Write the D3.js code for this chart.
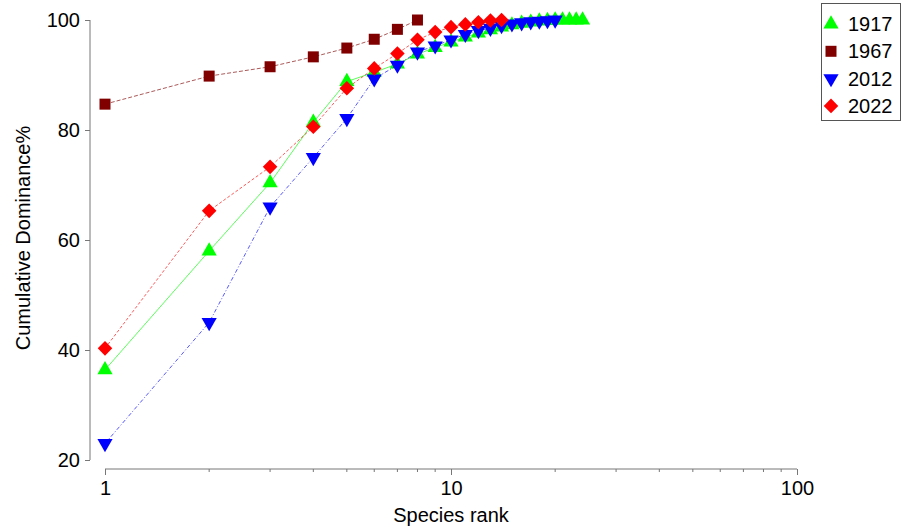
<!DOCTYPE html>
<html><head><meta charset="utf-8">
<script src="https://cdn.jsdelivr.net/npm/d3@7"></script>
<style>
body{margin:0;background:#fff;}
svg{display:block;font-family:"Liberation Sans",Arial,sans-serif;}
</style></head>
<body><svg id="c" width="903" height="529"></svg>
<script>
const rank1917 = d3.range(1, 25);
const v1917 = [36.4, 58.0, 70.4, 81.4, 88.8, 90.5, 92.0, 93.8, 95.0, 96.0, 96.9, 97.6, 98.2, 98.7, 99.1, 99.4, 99.6, 99.8, 99.9, 100, 100, 100, 100, 100];
const rank1967 = d3.range(1, 9);
const v1967 = [84.7, 89.8, 91.5, 93.3, 94.9, 96.5, 98.3, 100];
const rank2012 = d3.range(1, 21);
const v2012 = [23.0, 45.0, 66.0, 75.0, 82.1, 89.3, 91.8, 94.2, 95.3, 96.4, 97.4, 98.1, 98.5, 99.0, 99.3, 99.5, 99.7, 99.8, 99.9, 100];
const rank2022 = d3.range(1, 15);
const v2022 = [40.3, 65.3, 73.3, 80.6, 87.6, 91.2, 93.9, 96.4, 97.8, 98.7, 99.2, 99.6, 99.9, 100];
const yTicks = [20, 40, 60, 80, 100];
const xTicks = [1, 10, 100];
const xLabel = "Species rank";
const yLabel = "Cumulative Dominance%";

const series = [
  {name: "1917", x: rank1917, y: v1917, color: "#00ff00", line: "#00ff00", dash: null, sym: "up"},
  {name: "1967", x: rank1967, y: v1967, color: "#800000", line: "#800000", dash: "4,2", sym: "square"},
  {name: "2012", x: rank2012, y: v2012, color: "#0000ff", line: "#0000ff", dash: "4,2,1,2", sym: "down"},
  {name: "2022", x: rank2022, y: v2022, color: "#ff0000", line: "#ff0000", dash: "3,2", sym: "diamond"}
];

const svg = d3.select("#c");
const x = d3.scaleLog().domain([1, 100]).range([105, 797]);
const y = d3.scaleLinear().domain([20, 100]).range([460, 20]);
const axisColor = "#777";

// Y axis
const gy = svg.append("g").attr("transform", "translate(90,0)")
  .call(d3.axisLeft(y).tickValues(yTicks).tickSize(5).tickPadding(5).tickFormat(d3.format("d")));
gy.select(".domain").attr("stroke", axisColor).attr("d", "M0,20V460");
gy.selectAll(".tick line").attr("stroke", axisColor);
gy.selectAll(".tick text").attr("font-size", 20).attr("fill", "#000").attr("font-family", "Liberation Sans, Arial, sans-serif");

// X axis
const gx = svg.append("g").attr("transform", "translate(0,469)")
  .call(d3.axisBottom(x).tickValues(xTicks).tickSize(6).tickPadding(6).tickFormat(d3.format("d")));
gx.select(".domain").attr("stroke", axisColor).attr("d", "M105,0H797");
gx.selectAll(".tick line").attr("stroke", axisColor);
gx.selectAll(".tick text").attr("font-size", 20).attr("fill", "#000").attr("font-family", "Liberation Sans, Arial, sans-serif");
const minor = [];
[1, 10].forEach(b => { for (let k = 2; k <= 9; k++) minor.push(b * k); });
gx.selectAll(".minor").data(minor).enter().append("line")
  .attr("x1", d => x(d)).attr("x2", d => x(d)).attr("y1", 0).attr("y2", 3)
  .attr("stroke", axisColor);

// Labels
svg.append("text").attr("x", 451).attr("y", 522).attr("text-anchor", "middle")
  .attr("font-size", 20).text(xLabel);
svg.append("text").attr("transform", "translate(30,238) rotate(-90)").attr("text-anchor", "middle")
  .attr("font-size", 20).text(yLabel);

function symPath(kind) {
  if (kind === "up") return d3.symbol(d3.symbolTriangle, 100)();
  if (kind === "down") return d3.symbol(d3.symbolTriangle, 100)();
  if (kind === "square") return d3.symbol(d3.symbolSquare, 121)();
  return d3.symbol(d3.symbolSquare, 106)();
}
function symRot(kind) {
  if (kind === "down") return " rotate(180)";
  if (kind === "diamond") return " rotate(45)";
  return "";
}

const line = d3.line().x(d => x(d[0])).y(d => y(d[1]));
series.forEach(s => {
  const pts = s.x.map((r, i) => [r, s.y[i]]);
  const g = svg.append("g");
  g.append("path").attr("d", line(pts)).attr("fill", "none")
    .attr("stroke", s.line).attr("stroke-width", 1).attr("stroke-opacity", 0.65)
    .attr("stroke-dasharray", s.dash);
  g.selectAll("path.m").data(pts).enter().append("path").attr("class", "m")
    .attr("d", symPath(s.sym))
    .attr("transform", d => `translate(${x(d[0])},${y(d[1])})` + symRot(s.sym))
    .attr("fill", s.color);
});

// Legend
const lg = svg.append("g");
lg.append("rect").attr("x", 821.5).attr("y", 3.5).attr("width", 79).attr("height", 117)
  .attr("fill", "#fff").attr("stroke", "#555");
series.forEach((s, i) => {
  const cy = 24 + i * 27.3;
  lg.append("path").attr("d", symPath(s.sym))
    .attr("transform", `translate(831,${cy})` + symRot(s.sym)).attr("fill", s.color);
  lg.append("text").attr("x", 848).attr("y", cy + 7).attr("font-size", 20).text(s.name);
});
</script></body></html>
